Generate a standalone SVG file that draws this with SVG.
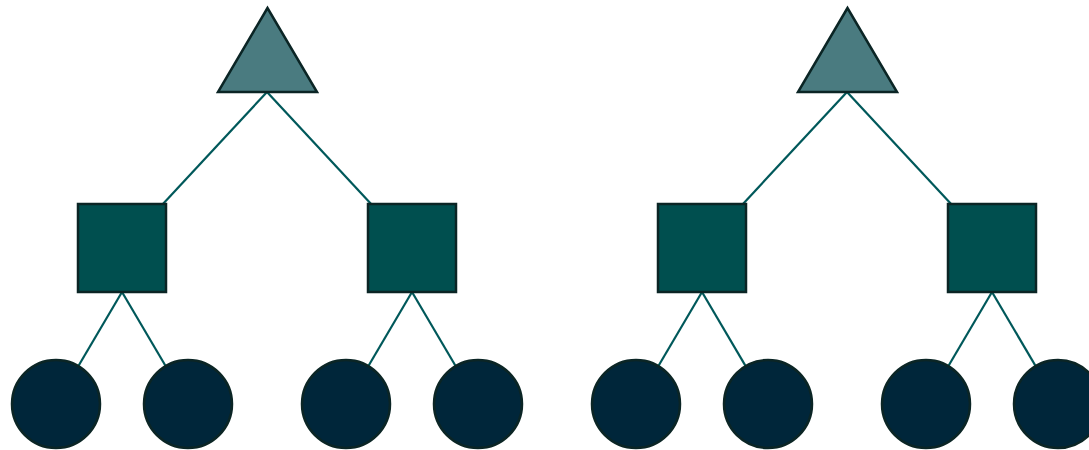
<svg xmlns="http://www.w3.org/2000/svg" width="1089" height="450" viewBox="0 0 1089 450">
<style>
.edge{stroke:#00585a;stroke-width:2.2;fill:none}
.tri{fill:#4a7b80;stroke:#0b2525;stroke-width:2.5;stroke-linejoin:miter}
.sq{fill:#004f4f;stroke:#0b2525;stroke-width:2.5}
.ci{fill:#00263a;stroke:#0b2525;stroke-width:2.5}
</style>
<rect width="1089" height="450" fill="#ffffff"/>
<g id="connectors">
<line class="edge" x1="267" y1="92" x2="122" y2="248"/>
<line class="edge" x1="267" y1="92" x2="412" y2="248"/>
<line class="edge" x1="122" y1="292" x2="56" y2="404"/>
<line class="edge" x1="122" y1="292" x2="188" y2="404"/>
<line class="edge" x1="412" y1="292" x2="346" y2="404"/>
<line class="edge" x1="412" y1="292" x2="478" y2="404"/>
<line class="edge" x1="847" y1="92" x2="702" y2="248"/>
<line class="edge" x1="847" y1="92" x2="992" y2="248"/>
<line class="edge" x1="702" y1="292" x2="636" y2="404"/>
<line class="edge" x1="702" y1="292" x2="768" y2="404"/>
<line class="edge" x1="992" y1="292" x2="926" y2="404"/>
<line class="edge" x1="992" y1="292" x2="1058" y2="404"/>
</g>
<g id="root1"><polygon class="tri" points="267.5,8 218,92 317,92"/></g>
<g id="root2"><polygon class="tri" points="847.5,8 798,92 897,92"/></g>
<g id="sq1"><rect class="sq" x="78" y="204" width="88" height="88"/></g>
<g id="sq2"><rect class="sq" x="368" y="204" width="88" height="88"/></g>
<g id="sq3"><rect class="sq" x="658" y="204" width="88" height="88"/></g>
<g id="sq4"><rect class="sq" x="948" y="204" width="88" height="88"/></g>
<g id="c1"><circle class="ci" cx="56" cy="404" r="44"/></g>
<g id="c2"><circle class="ci" cx="188" cy="404" r="44"/></g>
<g id="c3"><circle class="ci" cx="346" cy="404" r="44"/></g>
<g id="c4"><circle class="ci" cx="478" cy="404" r="44"/></g>
<g id="c5"><circle class="ci" cx="636" cy="404" r="44"/></g>
<g id="c6"><circle class="ci" cx="768" cy="404" r="44"/></g>
<g id="c7"><circle class="ci" cx="926" cy="404" r="44"/></g>
<g id="c8"><circle class="ci" cx="1058" cy="404" r="44"/></g>
</svg>
